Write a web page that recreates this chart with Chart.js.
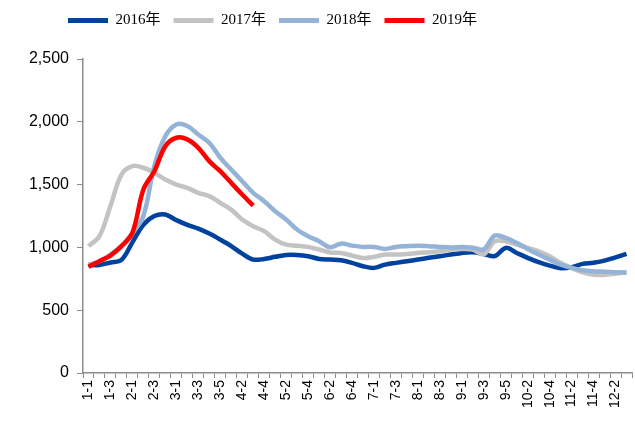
<!DOCTYPE html>
<html>
<head>
<meta charset="utf-8">
<script src="https://cdn.jsdelivr.net/npm/chart.js@4/dist/chart.umd.min.js"></script>
<style>
  html, body { margin: 0; padding: 0; background: #fff; }
  #wrap { width: 635px; height: 421px; }
</style>
</head>
<body>
<div id="wrap"><canvas id="myChart"></canvas></div>
<script>
// week labels (month-week)
var weeks = ['1-1','1-2','1-3','1-4','2-1','2-2','2-3','2-4','3-1','3-2','3-3','3-4','3-5',
  '4-1','4-2','4-3','4-4','5-1','5-2','5-3','5-4','6-1','6-2','6-3','6-4','6-5',
  '7-1','7-2','7-3','7-4','8-1','8-2','8-3','8-4','9-1','9-2','9-3','9-4','9-5',
  '10-1','10-2','10-3','10-4','11-1','11-2','11-3','11-4','12-1','12-2','12-3'];

var seriesNames = ['2016年','2017年','2018年','2019年'];

var y2016 = [860,860,880,900,1040,1180,1250,1262,1217,1180,1150,1110,1062,1010,950,903,908,925,940,940,
  930,908,903,898,877,850,837,863,877,890,903,917,930,943,956,961,948,930,996,956,
  917,882,855,834,842,869,877,895,921,948];
var y2017 = [1010,1090,1330,1580,1647,1634,1594,1540,1500,1474,1434,1408,1355,1301,1222,1168,1129,1062,1022,1014,
  1004,983,960,956,935,916,925,943,943,948,956,961,969,983,988,983,945,1049,1049,1022,
  996,969,930,877,837,802,783,781,791,802];
var y2018 = [860,890,943,1010,1116,1250,1650,1886,1979,1966,1899,1833,1714,1620,1527,1434,1368,1288,1222,1142,
  1089,1049,1001,1030,1014,1004,1004,988,1004,1010,1014,1010,1004,1000,1004,998,985,1094,1076,1036,
  988,943,903,863,837,818,810,807,802,799];
var y2019 = [845,890,935,1010,1116,1461,1607,1806,1873,1860,1793,1687,1607,1514,1421,1333];

var colors = ['#00429D','#C3C3C3','#95B3D7','#FF0000'];
var allData = [y2016, y2017, y2018, y2019];

var datasets = [];
for (var i = 0; i < allData.length; i++) {
  datasets.push({
    label: seriesNames[i],
    data: allData[i],
    borderColor: colors[i],
    backgroundColor: colors[i],
    borderWidth: 4.5,
    pointRadius: 0,
    tension: 0.35,
    fill: false,
    order: 4 - i
  });
}

var axisGray = '#8c8c8c';

// fixed legend band, legend shifted to the left like the original
var legendBox = {
  id: 'legendBox',
  beforeInit: function(chart) {
    var fit = chart.legend.fit;
    chart.legend.fit = function() {
      fit.bind(chart.legend)();
      this.height = 59;
    };
  },
  afterLayout: function(chart) {
    chart.legend.left = 55;
  }
};

var ctx = document.getElementById('myChart').getContext('2d');
var myChart = new Chart(ctx, {
  type: 'line',
  data: { labels: weeks, datasets: datasets },
  plugins: [legendBox],
  options: {
    responsive: true,
    maintainAspectRatio: false,
    animation: false,
    layout: { padding: { top: 0, right: 3, left: 0, bottom: 0 } },
    plugins: {
      tooltip: { enabled: false },
      legend: {
        position: 'top',
        align: 'start',
        labels: {
          boxWidth: 40,
          boxHeight: 5,
          padding: 13,
          color: '#000',
          font: { family: '"Liberation Serif", "Noto Sans CJK SC", serif', size: 15 },
          sort: function(a, b) { return a.datasetIndex - b.datasetIndex; },
          generateLabels: function(chart) {
            return chart.data.datasets.map(function(ds, idx) {
              return {
                text: ds.label,
                fillStyle: ds.borderColor,
                strokeStyle: ds.borderColor,
                lineWidth: 0,
                datasetIndex: idx,
                hidden: false
              };
            });
          }
        }
      }
    },
    scales: {
      x: {
        type: 'category',
        offset: true,
        grid: {
          offset: true,
          drawOnChartArea: false,
          color: axisGray,
          tickLength: 5
        },
        border: { color: axisGray, width: 1.5 },
        ticks: {
          autoSkip: false,
          maxRotation: 90,
          minRotation: 90,
          padding: 2,
          color: '#000',
          font: { family: '"Liberation Sans", sans-serif', size: 14 },
          callback: function(val, idx) {
            return idx % 2 === 0 ? weeks[idx] : '';
          }
        },
        afterFit: function(scale) {
          scale.height = 48;
          scale.paddingLeft = 0;
          scale.paddingRight = 0;
        }
      },
      y: {
        min: 0,
        max: 2500,
        grid: {
          drawOnChartArea: false,
          color: axisGray,
          tickLength: 6
        },
        border: { color: axisGray, width: 1.5 },
        ticks: {
          stepSize: 500,
          padding: 8,
          color: '#000',
          font: { family: '"Liberation Sans", sans-serif', size: 16 }
        },
        afterFit: function(scale) { scale.width = 83; }
      }
    }
  }
});
</script>
</body>
</html>
